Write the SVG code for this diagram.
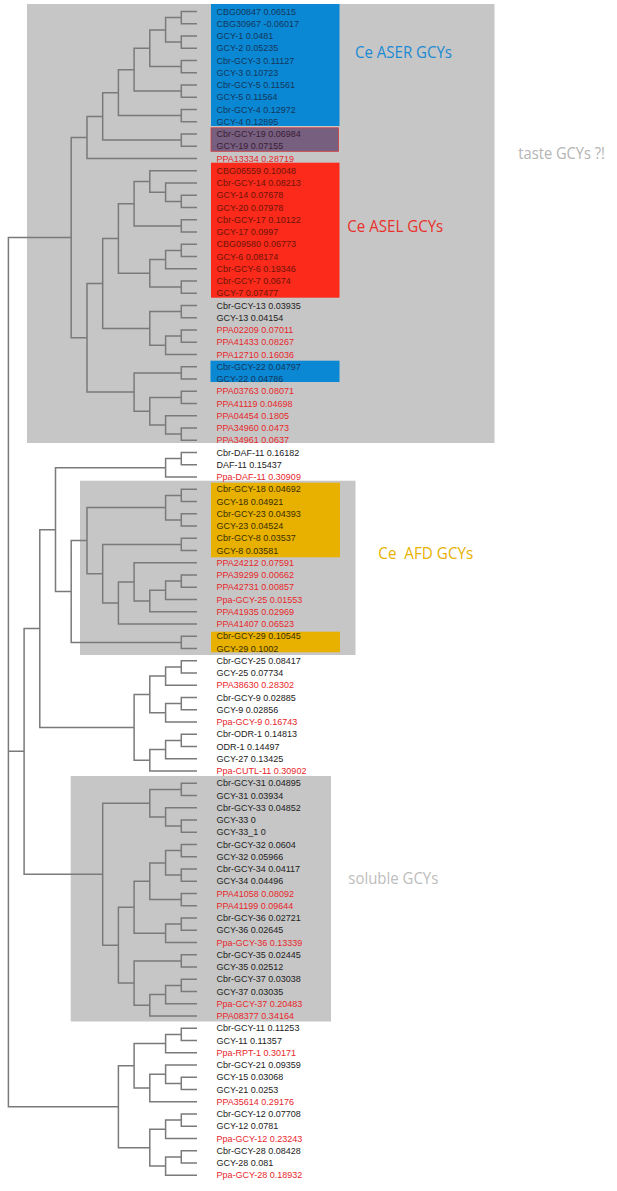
<svg xmlns="http://www.w3.org/2000/svg" width="617" height="1191" viewBox="0 0 617 1191">
<style>
.bg{fill:#c6c6c6}
.t{font-family:"Liberation Sans",Arial,sans-serif;font-size:9px;fill:#222}
.r{fill:#e8262b}
.ib{fill:#14375c}
.ir{fill:#6e1409}
.iy{fill:#3a2f00}
.ip{fill:#3a1d33}
.lab{font-family:"Open Sans","Liberation Sans",sans-serif;font-size:16px}
.br{fill:none;stroke:#7a7a7a;stroke-width:1.5}
</style>
<rect width="617" height="1191" fill="#fff"/>
<g id="boxes">
<rect class="bg" x="27" y="4" width="467.5" height="439"/>
<rect class="bg" x="80" y="480.7" width="275.5" height="174.3"/>
<rect class="bg" x="70.7" y="776" width="260.3" height="245.5"/>
<rect x="211" y="4" width="128.5" height="122" fill="#0a88d4"/>
<rect x="211" y="127.8" width="127.5" height="23.5" fill="#775f80" stroke="#d23b3b" stroke-width="0.8"/>
<rect x="211" y="162.7" width="128.5" height="135" fill="#fb2a1a"/>
<rect x="210.5" y="360.7" width="129" height="21.3" fill="#0a88d4"/>
<rect x="211" y="482.7" width="129" height="74.6" fill="#e8b100"/>
<rect x="211" y="631.7" width="129" height="20.6" fill="#e8b100"/>
</g>
<g id="connectors" class="br">
<path d="M197 11.5H181.3V23.75H197M197 36H181.3V48.25H197M181.3 17.6H165.6V42.1H181.3M197 60.5H181.3V72.75H197M165.6 29.9H149.8V66.6H181.3M197 85H181.3V97.25H197M149.8 48.25H134.1V91.1H181.3M197 109.5H181.3V121.75H197M134.1 69.7H118.4V115.6H181.3M197 134H181.3V146.25H197M118.4 92.7H102.7V140.1H181.3M102.7 116.4H87V158.5H197"/>
<path d="M197 195.25H181.3V207.5H197M197 183H165.6V201.4H181.3M197 170.75H149.8V192.2H165.6M197 219.75H181.3V232H197M149.8 181.5H134.1V225.9H181.3M197 244.25H181.3V256.5H197M181.3 250.4H165.6V268.75H197M197 281H181.3V293.25H197M165.6 259.6H149.8V287.1H181.3M134.1 203.7H118.4V273.3H149.8"/>
<path d="M197 305.5H181.3V317.75H197M197 330H181.3V342.25H197M181.3 336.1H165.6V354.5H197M181.3 311.6H149.8V345.3H165.6M118.4 238.5H102.7V328.5H149.8"/>
<path d="M197 366.75H181.3V379H197M197 391.25H181.3V403.5H197M197 428H181.3V440.25H197M197 415.75H165.6V434.1H181.3M181.3 397.4H149.8V424.9H165.6M181.3 372.9H134.1V411.2H149.8M102.7 283.5H87V392H134.1M87 137.45H71.2V337.75H87"/>
<path d="M197 452.5H181.3V464.75H197M181.3 458.6H165.6V477H197"/>
<path d="M197 489.25H181.3V501.5H197M197 513.75H181.3V526H197M181.3 495.4H165.6V519.9H181.3M197 538.25H181.3V550.5H197M197 575H181.3V587.25H197M181.3 581.1H165.6V599.5H197M165.6 590.3H149.8V611.75H197M197 562.75H134.1V601H149.8M134.1 581.9H118.4V624H197M181.3 544.4H102.7V603H118.4M165.6 507.6H87V573.7H102.7M197 636.25H181.3V648.5H197M87 540.6H71.2V642.4H181.3M165.6 467.8H55.5V591.5H71.2"/>
<path d="M197 660.75H181.3V673H197M181.3 666.9H165.6V685.25H197M197 697.5H181.3V709.75H197M181.3 703.6H165.6V722H197M165.6 676.1H149.8V712.8H165.6M197 734.25H181.3V746.5H197M181.3 740.4H165.6V758.75H197M165.6 749.6H149.8V771H197M149.8 694.4H134.1V760.3H149.8M55.5 529.7H39.8V727.4H134.1"/>
<path d="M197 783.25H181.3V795.5H197M197 820H181.3V832.25H197M197 807.75H165.6V826.1H181.3M181.3 789.4H149.8V816.9H165.6M197 844.5H181.3V856.75H197M197 869H181.3V881.25H197M181.3 850.6H165.6V875.1H181.3M197 893.5H181.3V905.75H197M165.6 862.9H149.8V899.6H181.3M197 918H181.3V930.25H197M181.3 924.1H165.6V942.5H197M149.8 881.25H134.1V933.3H165.6M197 954.75H181.3V967H197M197 979.25H181.3V991.5H197M181.3 985.4H165.6V1003.75H197M165.6 994.6H149.8V1016H197M181.3 960.9H134.1V1005.3H149.8M134.1 907.3H118.4V983.1H134.1M149.8 803.2H102.7V945.2H118.4M39.8 628.5H24.1V874.2H102.7"/>
<path d="M197 1028.25H181.3V1040.5H197M181.3 1034.4H165.6V1052.75H197M197 1077.25H181.3V1089.5H197M197 1065H165.6V1083.4H181.3M165.6 1074.2H149.8V1101.75H197M165.6 1043.6H134.1V1088H149.8M197 1114H181.3V1126.25H197M181.3 1120.1H165.6V1138.5H197M197 1150.75H181.3V1163H197M181.3 1156.9H165.6V1175.25H197M165.6 1129.3H149.8V1166.1H165.6M134.1 1065.8H118.4V1147.7H149.8"/>
<path d="M71.2 237.6H8.4V1106.7H118.4M8.4 751.3H24.1"/>
</g>
<g id="taste-clade" class="t">
<text id="n1" class="t ib" x="216.5" y="14.7">CBG00847 0.06515</text>
<text id="n2" class="t ib" x="216.5" y="26.95">CBG30967 -0.06017</text>
<text id="n3" class="t ib" x="216.5" y="39.2">GCY-1 0.0481</text>
<text id="n4" class="t ib" x="216.5" y="51.45">GCY-2 0.05235</text>
<text id="n5" class="t ib" x="216.5" y="63.7">Cbr-GCY-3 0.11127</text>
<text id="n6" class="t ib" x="216.5" y="75.95">GCY-3 0.10723</text>
<text id="n7" class="t ib" x="216.5" y="88.2">Cbr-GCY-5 0.11561</text>
<text id="n8" class="t ib" x="216.5" y="100.45">GCY-5 0.11564</text>
<text id="n9" class="t ib" x="216.5" y="112.7">Cbr-GCY-4 0.12972</text>
<text id="n10" class="t ib" x="216.5" y="124.95">GCY-4 0.12895</text>
<text id="n11" class="t ip" x="216.5" y="137.2">Cbr-GCY-19 0.06984</text>
<text id="n12" class="t ip" x="216.5" y="149.45">GCY-19 0.07155</text>
<text id="n13" class="t r" x="216.5" y="161.7">PPA13334 0.28719</text>
<text id="n14" class="t ir" x="216.5" y="173.95">CBG06559 0.10048</text>
<text id="n15" class="t ir" x="216.5" y="186.2">Cbr-GCY-14 0.08213</text>
<text id="n16" class="t ir" x="216.5" y="198.45">GCY-14 0.07678</text>
<text id="n17" class="t ir" x="216.5" y="210.7">GCY-20 0.07978</text>
<text id="n18" class="t ir" x="216.5" y="222.95">Cbr-GCY-17 0.10122</text>
<text id="n19" class="t ir" x="216.5" y="235.2">GCY-17 0.0997</text>
<text id="n20" class="t ir" x="216.5" y="247.45">CBG09580 0.06773</text>
<text id="n21" class="t ir" x="216.5" y="259.7">GCY-6 0.08174</text>
<text id="n22" class="t ir" x="216.5" y="271.95">Cbr-GCY-6 0.19346</text>
<text id="n23" class="t ir" x="216.5" y="284.2">Cbr-GCY-7 0.0674</text>
<text id="n24" class="t ir" x="216.5" y="296.45">GCY-7 0.07477</text>
<text id="n25" x="216.5" y="308.7">Cbr-GCY-13 0.03935</text>
<text id="n26" x="216.5" y="320.95">GCY-13 0.04154</text>
<text id="n27" class="t r" x="216.5" y="333.2">PPA02209 0.07011</text>
<text id="n28" class="t r" x="216.5" y="345.45">PPA41433 0.08267</text>
<text id="n29" class="t r" x="216.5" y="357.7">PPA12710 0.16036</text>
<text id="n30" class="t ib" x="216.5" y="369.95">Cbr-GCY-22 0.04797</text>
<text id="n31" class="t ib" x="216.5" y="382.2">GCY-22 0.04786</text>
<text id="n32" class="t r" x="216.5" y="394.45">PPA03763 0.08071</text>
<text id="n33" class="t r" x="216.5" y="406.7">PPA41119 0.04698</text>
<text id="n34" class="t r" x="216.5" y="418.95">PPA04454 0.1805</text>
<text id="n35" class="t r" x="216.5" y="431.2">PPA34960 0.0473</text>
<text id="n36" class="t r" x="216.5" y="443.45">PPA34961 0.0637</text>
<text id="ceaser" class="lab" x="355" y="58.3" fill="#1a8ad4" textLength="97" lengthAdjust="spacingAndGlyphs">Ce ASER GCYs</text>
<text id="ceasel" class="lab" x="347.3" y="232.3" fill="#e8312a" textLength="96" lengthAdjust="spacingAndGlyphs">Ce ASEL GCYs</text>
<text id="taste" class="lab" x="518.3" y="159" fill="#b4b4b4" textLength="86.7" lengthAdjust="spacingAndGlyphs">taste GCYs ?!</text>
</g>
<g id="daf-afd-clade" class="t">
<text id="n37" x="216.5" y="455.7">Cbr-DAF-11 0.16182</text>
<text id="n38" x="216.5" y="467.95">DAF-11 0.15437</text>
<text id="n39" class="t r" x="216.5" y="480.2">Ppa-DAF-11 0.30909</text>
<text id="n40" class="t iy" x="216.5" y="492.45">Cbr-GCY-18 0.04692</text>
<text id="n41" class="t iy" x="216.5" y="504.7">GCY-18 0.04921</text>
<text id="n42" class="t iy" x="216.5" y="516.95">Cbr-GCY-23 0.04393</text>
<text id="n43" class="t iy" x="216.5" y="529.2">GCY-23 0.04524</text>
<text id="n44" class="t iy" x="216.5" y="541.45">Cbr-GCY-8 0.03537</text>
<text id="n45" class="t iy" x="216.5" y="553.7">GCY-8 0.03581</text>
<text id="n46" class="t r" x="216.5" y="565.95">PPA24212 0.07591</text>
<text id="n47" class="t r" x="216.5" y="578.2">PPA39299 0.00662</text>
<text id="n48" class="t r" x="216.5" y="590.45">PPA42731 0.00857</text>
<text id="n49" class="t r" x="216.5" y="602.7">Ppa-GCY-25 0.01553</text>
<text id="n50" class="t r" x="216.5" y="614.95">PPA41935 0.02969</text>
<text id="n51" class="t r" x="216.5" y="627.2">PPA41407 0.06523</text>
<text id="n52" class="t iy" x="216.5" y="639.45">Cbr-GCY-29 0.10545</text>
<text id="n53" class="t iy" x="216.5" y="651.7">GCY-29 0.1002</text>
<text id="ceafd" class="lab" x="378.3" y="559.3" fill="#e8b100" textLength="95" lengthAdjust="spacingAndGlyphs" xml:space="preserve">Ce  AFD GCYs</text>
</g>
<g id="chemo-clade" class="t">
<text id="n54" x="216.5" y="663.95">Cbr-GCY-25 0.08417</text>
<text id="n55" x="216.5" y="676.2">GCY-25 0.07734</text>
<text id="n56" class="t r" x="216.5" y="688.45">PPA38630 0.28302</text>
<text id="n57" x="216.5" y="700.7">Cbr-GCY-9 0.02885</text>
<text id="n58" x="216.5" y="712.95">GCY-9 0.02856</text>
<text id="n59" class="t r" x="216.5" y="725.2">Ppa-GCY-9 0.16743</text>
<text id="n60" x="216.5" y="737.45">Cbr-ODR-1 0.14813</text>
<text id="n61" x="216.5" y="749.7">ODR-1 0.14497</text>
<text id="n62" x="216.5" y="761.95">GCY-27 0.13425</text>
<text id="n63" class="t r" x="216.5" y="774.2">Ppa-CUTL-11 0.30902</text>
</g>
<g id="soluble-clade" class="t">
<text id="n64" x="216.5" y="786.45">Cbr-GCY-31 0.04895</text>
<text id="n65" x="216.5" y="798.7">GCY-31 0.03934</text>
<text id="n66" x="216.5" y="810.95">Cbr-GCY-33 0.04852</text>
<text id="n67" x="216.5" y="823.2">GCY-33 0</text>
<text id="n68" x="216.5" y="835.45">GCY-33_1 0</text>
<text id="n69" x="216.5" y="847.7">Cbr-GCY-32 0.0604</text>
<text id="n70" x="216.5" y="859.95">GCY-32 0.05966</text>
<text id="n71" x="216.5" y="872.2">Cbr-GCY-34 0.04117</text>
<text id="n72" x="216.5" y="884.45">GCY-34 0.04496</text>
<text id="n73" class="t r" x="216.5" y="896.7">PPA41058 0.08092</text>
<text id="n74" class="t r" x="216.5" y="908.95">PPA41199 0.09644</text>
<text id="n75" x="216.5" y="921.2">Cbr-GCY-36 0.02721</text>
<text id="n76" x="216.5" y="933.45">GCY-36 0.02645</text>
<text id="n77" class="t r" x="216.5" y="945.7">Ppa-GCY-36 0.13339</text>
<text id="n78" x="216.5" y="957.95">Cbr-GCY-35 0.02445</text>
<text id="n79" x="216.5" y="970.2">GCY-35 0.02512</text>
<text id="n80" x="216.5" y="982.45">Cbr-GCY-37 0.03038</text>
<text id="n81" x="216.5" y="994.7">GCY-37 0.03035</text>
<text id="n82" class="t r" x="216.5" y="1006.95">Ppa-GCY-37 0.20483</text>
<text id="n83" class="t r" x="216.5" y="1019.2">PPA08377 0.34164</text>
<text id="soluble" class="lab" x="348.3" y="884.3" fill="#bdbdbd" textLength="90" lengthAdjust="spacingAndGlyphs">soluble GCYs</text>
</g>
<g id="bottom-clade" class="t">
<text id="n84" x="216.5" y="1031.45">Cbr-GCY-11 0.11253</text>
<text id="n85" x="216.5" y="1043.7">GCY-11 0.11357</text>
<text id="n86" class="t r" x="216.5" y="1055.95">Ppa-RPT-1 0.30171</text>
<text id="n87" x="216.5" y="1068.2">Cbr-GCY-21 0.09359</text>
<text id="n88" x="216.5" y="1080.45">GCY-15 0.03068</text>
<text id="n89" x="216.5" y="1092.7">GCY-21 0.0253</text>
<text id="n90" class="t r" x="216.5" y="1104.95">PPA35614 0.29176</text>
<text id="n91" x="216.5" y="1117.2">Cbr-GCY-12 0.07708</text>
<text id="n92" x="216.5" y="1129.45">GCY-12 0.0781</text>
<text id="n93" class="t r" x="216.5" y="1141.7">Ppa-GCY-12 0.23243</text>
<text id="n94" x="216.5" y="1153.95">Cbr-GCY-28 0.08428</text>
<text id="n95" x="216.5" y="1166.2">GCY-28 0.081</text>
<text id="n96" class="t r" x="216.5" y="1178.45">Ppa-GCY-28 0.18932</text>
</g>
</svg>
